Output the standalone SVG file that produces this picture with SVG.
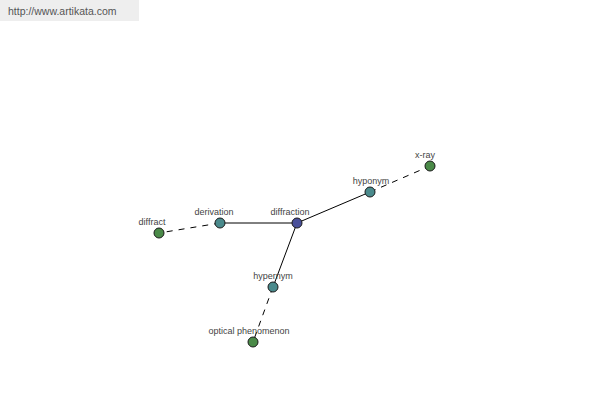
<svg xmlns="http://www.w3.org/2000/svg" width="600" height="400" viewBox="0 0 600 400">
<style>
.lbl{font-family:"Liberation Sans",Arial,sans-serif;font-size:9px;fill:#444;text-anchor:middle}
.n{stroke:#1a1a1a;stroke-width:1}
.root{fill:#4a509a}
.rel{fill:#4a8a8c}
.leaf{fill:#4a8a48}
.solid{stroke:#000;stroke-width:1;fill:none}
.dash{stroke:#000;stroke-width:1;fill:none;stroke-dasharray:6,6}
</style>
<rect x="0" y="0" width="139" height="21" fill="#eeeeee"/>
<text x="8" y="15" font-family="'Liberation Sans',Arial,sans-serif" font-size="10.5" fill="#555">http://www.artikata.com</text>
<g id="connectors">
<line class="solid" x1="297" y1="223" x2="220" y2="223"/>
<line class="solid" x1="297" y1="223" x2="370" y2="192"/>
<line class="solid" x1="297" y1="223" x2="273" y2="287"/>
<line class="dash" x1="220" y1="223" x2="159" y2="233"/>
<line class="dash" x1="370" y1="192" x2="430" y2="166"/>
<line class="dash" x1="273" y1="287" x2="253" y2="342"/>
</g>
<g id="diffraction"><circle class="n root" cx="297" cy="223" r="5"/><text class="lbl" x="290" y="215">diffraction</text></g>
<g id="derivation"><circle class="n rel" cx="220" cy="223" r="5"/><text class="lbl" x="214" y="215">derivation</text></g>
<g id="diffract"><circle class="n leaf" cx="159" cy="233" r="5"/><text class="lbl" x="152" y="225">diffract</text></g>
<g id="hyponym"><circle class="n rel" cx="370" cy="192" r="5"/><text class="lbl" x="371" y="184">hyponym</text></g>
<g id="x-ray"><circle class="n leaf" cx="430" cy="166" r="5"/><text class="lbl" x="425" y="158">x-ray</text></g>
<g id="hypernym"><circle class="n rel" cx="273" cy="287" r="5"/><text class="lbl" x="273" y="279">hypernym</text></g>
<g id="optical-phenomenon"><circle class="n leaf" cx="253" cy="342" r="5"/><text class="lbl" x="249" y="334">optical phenomenon</text></g>
</svg>
